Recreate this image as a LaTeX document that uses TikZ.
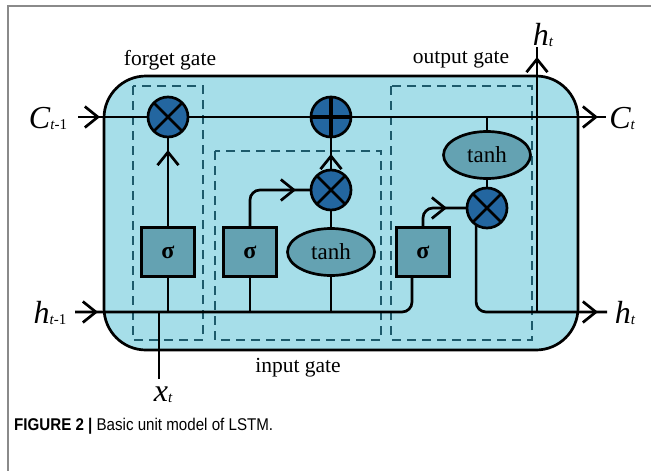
\documentclass[tikz,border=0pt]{standalone}
\usepackage{fontspec}
\setmainfont{Liberation Serif}
\newfontfamily\capfont[FakeStretch=0.89]{Liberation Sans}
\usetikzlibrary{arrows.meta,decorations.markings,shapes.geometric}
\pgfdeclarelayer{bg}
\pgfsetlayers{bg,main}
\definecolor{cellfill}{HTML}{A6DEE9}
\definecolor{opfill}{HTML}{2366A0}
\definecolor{actfill}{HTML}{64A2B2}
\definecolor{dashcol}{HTML}{1D5A6B}
\definecolor{framecol}{HTML}{8A8A8A}
\newcommand{\sublab}[2]{#1\raisebox{-1pt}{\fontsize{15}{15}\selectfont #2}}
\begin{document}
\begin{tikzpicture}[x=1pt,y=-1pt,
  wire/.style={line width=2.7pt},
  chev/.style={postaction={decorate},decoration={markings,mark=at position #1 with {\arrow{Straight Barb[length=13pt,width=21pt,line width=2.7pt]}}}},
  opnode/.style={circle,draw,fill=opfill,line width=2.7pt,minimum size=40pt,inner sep=0pt,outer sep=0pt},
  sigbox/.style={rectangle,draw,fill=actfill,line width=2.7pt,minimum width=53pt,minimum height=49pt,inner sep=0pt,outer sep=0pt,font=\fontsize{24}{24}\selectfont\bfseries},
  tanhnode/.style={ellipse,draw,fill=actfill,line width=2.7pt,minimum width=87pt,minimum height=47pt,inner sep=0pt,outer sep=0pt,font=\fontsize{23}{23}\selectfont},
  gatebox/.style={draw=dashcol,dash pattern=on 9pt off 6pt,line width=2pt},
  gatelabel/.style={font=\fontsize{21.5}{21.5}\selectfont,inner sep=0pt},
  varlabel/.style={font=\fontsize{32}{32}\selectfont\itshape,inner sep=0pt}
]
\useasboundingbox (0,0) rectangle (651,471);
\draw[framecol,line width=1.2pt] (8,471) -- (8,6) -- (651,6);

% operation nodes
\node[opnode] (fx) at (168,117) {};
\node[opnode] (plus) at (331,117) {};
\node[opnode] (ix) at (331,190) {};
\node[opnode] (ox) at (487,208) {};
\foreach \n in {fx,ix,ox}
  \draw[line width=2.7pt] (\n.45) -- (\n.225) (\n.135) -- (\n.-45);
\draw[line width=3.8pt] (plus.north) -- (plus.south) (plus.east) -- (plus.west);

\node[sigbox] (fs) at (168,252) {σ};
\node[sigbox] (is) at (250,252) {σ};
\node[sigbox] (os) at (423,252) {σ};
\node[tanhnode] (it) at (331,252) {tanh};
\node[tanhnode] (ot) at (487,155) {tanh};

% free ends
\coordinate (cin) at (78,117);
\coordinate (cout) at (606,117);
\coordinate (hin) at (75,312);
\coordinate (hout) at (607,312);
\coordinate (htop) at (537,47);
\coordinate (xin) at (159,379);

% labels
\node[varlabel] (lc0) at (48,118) {\sublab{C}{t\upshape -1}};
\node[varlabel] (lc1) at (622,118) {\sublab{C}{t}};
\node[varlabel] (lh0) at (50,313) {\sublab{h}{t\upshape -1}};
\node[varlabel] (lh1) at (625,313) {\sublab{h}{t}};
\node[varlabel] (lh2) at (543,35) {\sublab{h}{t}};
\node[varlabel] (lx) at (163,395) {\sublab{x}{t}};
\node[gatelabel] (gf) at (170,60) {forget gate};
\node[gatelabel] (go) at (461,60) {output gate};
\node[gatelabel] (gi) at (298,368) {input gate};
\node[anchor=west,inner sep=0pt,font=\capfont\fontsize{17}{17}\selectfont] (cap) at (14,426) {\textbf{FIGURE 2 |} Basic unit model of LSTM.};

\begin{pgfonlayer}{bg}
\draw[fill=cellfill,line width=2.7pt,rounded corners=42pt] (104,76) rectangle (578,350);
\draw[gatebox] (133,86) rectangle (203,340);
\draw[gatebox] (215,151) rectangle (381,340);
\draw[gatebox] (391,86) rectangle (532,340);

\draw[wire,chev=22pt] (cin) -- (fx);
\draw[wire] (fx) -- (plus);
\draw[wire,chev=-8pt] (plus) -- (cout);
\draw[wire] (ot) -- (ot |- plus);
\draw[wire] (ot) -- (ox);
\draw[wire,chev=-13pt] (fs) -- (fx);
\draw[wire] (fs) -- (fs |- hin);
\draw[wire,chev=-15pt,rounded corners=10pt] (is.north) |- (ix.west);
\draw[wire] (is) -- (is |- hin);
\draw[wire] (it) -- (ix);
\draw[wire] (it) -- (it |- hin);
\draw[wire,chev=-17pt] (ix) -- (plus);
\draw[wire,chev=23pt,rounded corners=10pt] (hin) -| ([xshift=-11pt]os.south);
\draw[wire,chev=-20pt,rounded corners=10pt] (os.north) |- (ox.west);
\draw[wire,chev=-9pt,rounded corners=10pt] (ox.-123) |- (hout);
\draw[wire,chev=-10pt] (htop |- hout) -- (htop);
\draw[wire] (xin) -- (xin |- hin);
\end{pgfonlayer}
\end{tikzpicture}
\end{document}
